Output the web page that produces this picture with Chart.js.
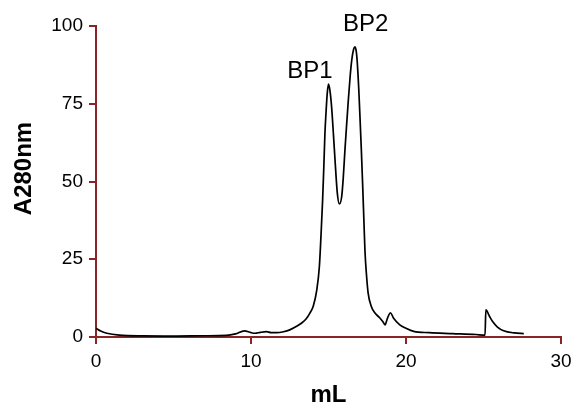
<!DOCTYPE html>
<html>
<head>
<meta charset="utf-8">
<script src="https://cdn.jsdelivr.net/npm/chart.js@4"></script>
<style>
  html, body { margin: 0; padding: 0; background: #fff; }
  canvas { display: block; }
</style>
</head>
<body>
<canvas id="chart" width="572" height="410"></canvas>
<script>
// elution volume (mL) and absorbance at 280 nm
const volume = [
  0, 0.3, 0.7, 1.5, 3, 5, 7, 8.4, 9.0, 9.57, 10.0, 10.26, 10.6, 11.0, 11.3, 11.65,
  12.1, 12.5, 13.0, 13.27, 13.55, 13.8, 14.02, 14.24, 14.41, 14.52, 14.62, 14.7,
  14.77, 14.85, 14.92, 15.0, 15.1, 15.2, 15.32, 15.42, 15.57, 15.7, 15.85, 15.95,
  16.06, 16.18, 16.28, 16.4, 16.5, 16.62, 16.71, 16.8, 16.86, 16.95, 17.03, 17.12,
  17.2, 17.28, 17.35, 17.45, 17.56, 17.75, 18.0, 18.3, 18.5, 18.65, 18.8, 19.0,
  19.2, 19.6, 20.0, 20.5, 21.5, 23, 24.5, 25.1, 25.15, 25.4, 25.6, 25.9, 26.3,
  27.0, 27.6
];
const a280 = [
  2.8, 1.9, 1.2, 0.6, 0.35, 0.3, 0.4, 0.5, 1.0, 2.0, 1.4, 1.2, 1.5, 1.7, 1.4, 1.4,
  1.7, 2.3, 3.6, 4.5, 5.8, 7.7, 10, 15, 22.6, 33, 44, 55,
  65.5, 73, 78.4, 81.3, 79, 74, 65, 57, 46.2, 42.8, 45.1, 51,
  60.1, 69, 76.2, 84, 89, 92.5, 93.3, 91.5, 88, 80, 70.8, 60,
  49.4, 38, 28, 20, 14, 10, 7.7, 6.2, 5.0, 3.9, 6.0, 7.8,
  6.0, 3.9, 2.8, 1.8, 1.4, 1.1, 0.8, 0.6, 8.7, 6.5, 4.9, 3.2, 2.0,
  1.3, 1.1
];
const peakNames = ["BP1", "BP2"];
const peakX = [13.8, 17.4];
const peakY = [85.5, 100.5];
const xTicks = [0, 10, 20, 30];
const yTicks = [0, 25, 50, 75, 100];

const axisColor = "#8b2525";
const fontFamily = "'Liberation Sans', Arial, sans-serif";

// peak labels plus the y title, which sits a little above the middle of the axis
const annotations = {
  id: "annotations",
  afterDatasetsDraw(chart) {
    const { ctx, scales, chartArea } = chart;
    ctx.save();
    ctx.fillStyle = "#000";
    ctx.font = "24px " + fontFamily;
    ctx.textAlign = "center";
    ctx.textBaseline = "middle";
    peakNames.forEach((name, i) => {
      ctx.fillText(name, scales.x.getPixelForValue(peakX[i]), scales.y.getPixelForValue(peakY[i]));
    });
    ctx.translate(24, (chartArea.top + chartArea.bottom) / 2 - 13);
    ctx.rotate(-Math.PI / 2);
    ctx.font = "bold 24px " + fontFamily;
    ctx.fillText("A280nm", 0, 0);
    ctx.restore();
  }
};

new Chart(document.getElementById("chart"), {
  type: "line",
  data: {
    datasets: [{
      data: volume.map((v, i) => ({ x: v, y: a280[i] })),
      borderColor: "#000",
      borderWidth: 1.7,
      pointRadius: 0,
      fill: false,
      cubicInterpolationMode: "monotone"
    }]
  },
  options: {
    responsive: false,
    animation: false,
    layout: { padding: { top: 26, right: 11, left: 0, bottom: 0 } },
    plugins: {
      legend: { display: false },
      tooltip: { enabled: false }
    },
    scales: {
      x: {
        type: "linear",
        min: 0,
        max: 30,
        afterBuildTicks: (s) => { s.ticks = xTicks.map(v => ({ value: v })); },
        afterFit: (s) => { s.height = 73; s.paddingRight = 0; s.paddingLeft = 0; },
        border: { color: axisColor, width: 2 },
        grid: { drawOnChartArea: false, color: axisColor, lineWidth: 2, tickLength: 7 },
        ticks: { color: "#000", padding: 6, maxRotation: 0, font: { family: fontFamily, size: 19 } },
        title: {
          display: true,
          text: "mL",
          color: "#000",
          padding: { top: 6, bottom: 0 },
          font: { family: fontFamily, size: 24, weight: "bold" }
        }
      },
      y: {
        min: 0,
        max: 100,
        afterBuildTicks: (s) => { s.ticks = yTicks.map(v => ({ value: v })); },
        afterFit: (s) => { s.width = 96; s.paddingTop = 0; s.paddingBottom = 0; },
        border: { color: axisColor, width: 2 },
        grid: { drawOnChartArea: false, color: axisColor, lineWidth: 2, tickLength: 7 },
        ticks: { color: "#000", padding: 6, font: { family: fontFamily, size: 19 } }
      }
    }
  },
  plugins: [annotations]
});
</script>
</body>
</html>
